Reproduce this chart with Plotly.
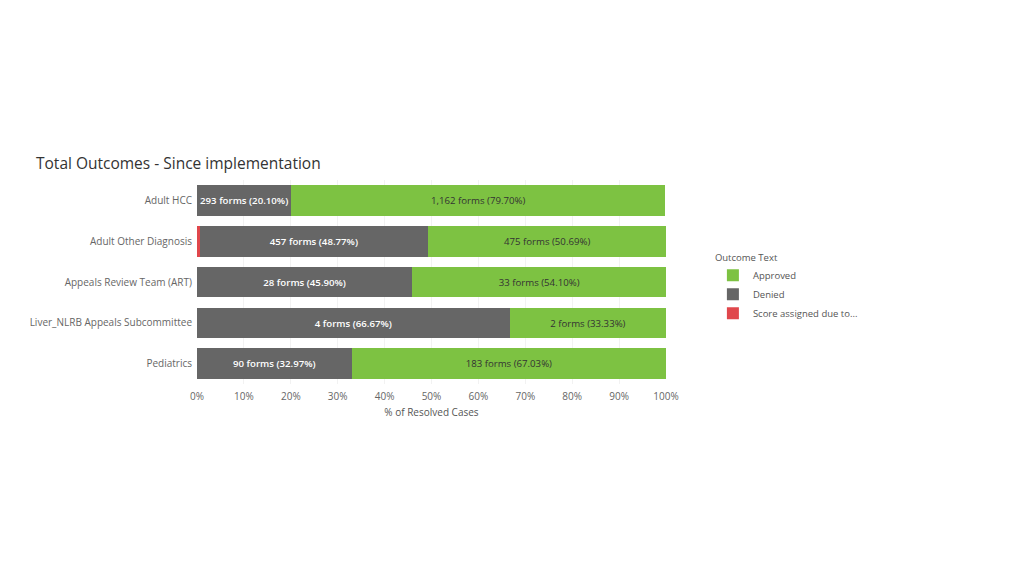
import plotly.graph_objects as go

teams = ["Adult HCC", "Adult Other Diagnosis", "Appeals Review Team (ART)",
         "Liver_NLRB Appeals Subcommittee", "Pediatrics"]

denied_forms = [293, 457, 28, 4, 90]
denied_pct = [20.10, 48.77, 45.90, 66.67, 32.97]

approved_forms = [1162, 475, 33, 2, 183]
approved_pct = [79.70, 50.69, 54.10, 33.33, 67.03]

score_forms = [0, 5, 0, 0, 0]
score_pct = [0.0, 0.54, 0.0, 0.0, 0.0]

FONT = "Open Sans, Lato, sans-serif"


def label(n, p):
    return f"{n:,} forms ({p:.2f}%)" if n else ""


fig = go.Figure()
fig.add_trace(go.Bar(
    y=teams, x=score_pct, orientation="h", name="Score assigned due to...",
    marker=dict(color="#e0474c", line=dict(width=0)),
    text=[label(n, p) for n, p in zip(score_forms, score_pct)],
    textposition="none", hoverinfo="y+x",
))
fig.add_trace(go.Bar(
    y=teams, x=denied_pct, orientation="h", name="Denied",
    marker=dict(color="#666666", line=dict(width=0)),
    text=[label(n, p) for n, p in zip(denied_forms, denied_pct)],
    textposition="inside", insidetextanchor="middle",
    textfont=dict(color="#ffffff", size=10, family=FONT, weight=600),
))
fig.add_trace(go.Bar(
    y=teams, x=approved_pct, orientation="h", name="Approved",
    marker=dict(color="#7dc242", line=dict(width=0)),
    text=[label(n, p) for n, p in zip(approved_forms, approved_pct)],
    textposition="inside", insidetextanchor="middle",
    textfont=dict(color="#333333", size=10, family=FONT),
))

# the page body has an 8px margin, so everything is placed 8px up/left
fig.update_layout(
    barmode="stack",
    bargap=0.25,
    width=1024, height=576,
    margin=dict(l=189, r=366, t=172, b=200),
    paper_bgcolor="white", plot_bgcolor="white",
    font=dict(family=FONT, color="#666666", size=10),
    title=dict(text="Total Outcomes - Since implementation", x=28 / 1024, xref="container",
               xanchor="left", y=1 - 156 / 576, yref="container", yanchor="middle",
               font=dict(size=15.5, color="#333333", family=FONT)),
    legend=dict(title=dict(text="Outcome Text", font=dict(size=9.5, color="#555555")),
                x=1.1, xanchor="left", y=0.665, yanchor="top",
                traceorder="reversed", font=dict(size=9.5, color="#555555"),
                itemwidth=30, tracegroupgap=0),
    uniformtext=dict(minsize=8, mode="show"),
)
fig.update_xaxes(range=[0, 100], dtick=10, ticksuffix="%", showgrid=True,
                 gridcolor="#f2f2f2", zeroline=False, showline=False,
                 tickfont=dict(size=10, color="#666666"), ticks="", ticklabelstandoff=5,
                 title=dict(text="% of Resolved Cases", font=dict(size=10, color="#555555"), standoff=6),
                 fixedrange=True)
fig.update_yaxes(autorange="reversed", showgrid=False, ticks="", ticklabelstandoff=4,
                 tickfont=dict(size=10, color="#666666"), fixedrange=True)

fig.write_html("out.html")
